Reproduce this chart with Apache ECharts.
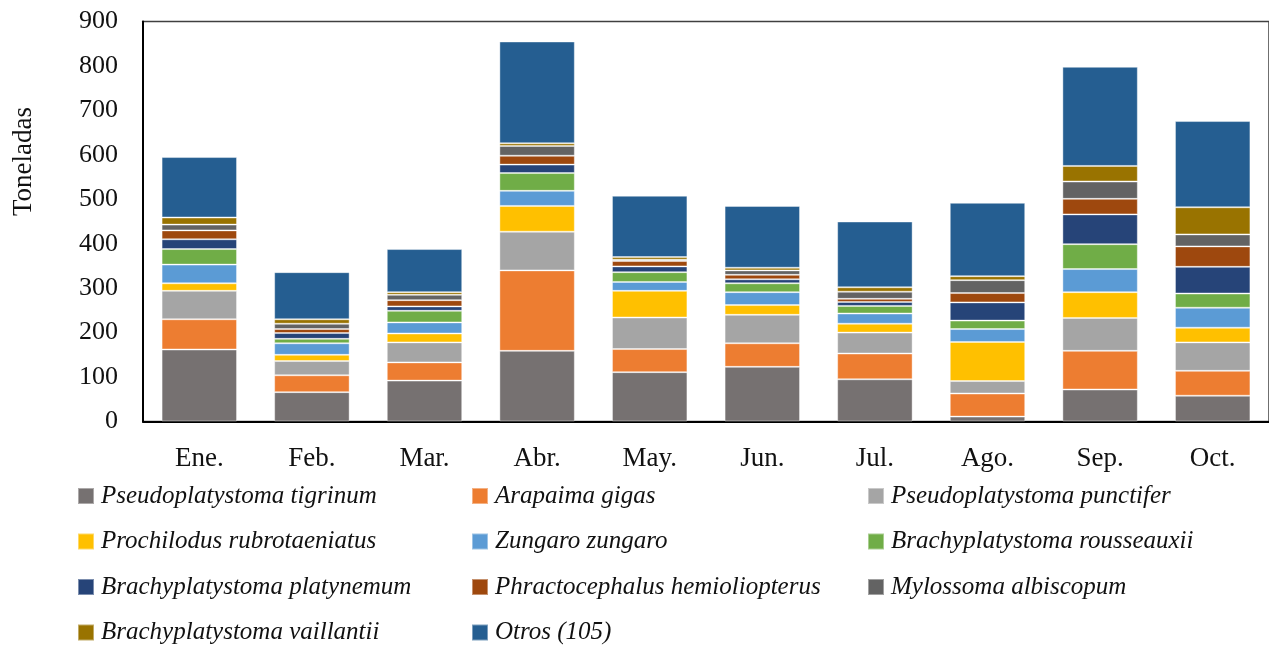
<!DOCTYPE html>
<html>
<head>
<meta charset="utf-8">
<script src="https://cdn.jsdelivr.net/npm/echarts@6/dist/echarts.min.js"></script>
<style>
html,body{margin:0;padding:0;background:#fff;}
#chart{width:1269px;height:650px;}
</style>
</head>
<body>
<div id="chart"></div>
<script>
const categories = ['Ene.','Feb.','Mar.','Abr.','May.','Jun.','Jul.','Ago.','Sep.','Oct.'];
const yTicks = [0,100,200,300,400,500,600,700,800,900];

const tigrinum     = [162, 66, 92, 159, 111, 123, 95, 11, 72, 58];
const arapaima     = [68, 38, 41, 181, 52, 53, 58, 52, 87, 56];
const punctifer    = [64, 32, 45, 87, 71, 64, 47, 28, 74, 64];
const prochilodus  = [17, 14, 20, 58, 60, 22, 20, 88, 58, 33];
const zungaro      = [42, 26, 25, 34, 20, 29, 23, 29, 52, 45];
const rousseauxii  = [35, 10, 26, 40, 22, 20, 17, 19, 56, 32];
const platynemum   = [22, 13, 10, 19, 13, 9, 9, 41, 67, 60];
const phractoceph  = [20, 9, 14, 20, 12, 10, 7, 21, 35, 46];
const mylossoma    = [13, 12, 12, 22, 3, 10, 16, 29, 39, 27];
const vaillantii   = [16, 10, 6, 6, 6, 6, 10, 9, 35, 61];
const otros        = [136, 106, 97, 229, 138, 139, 148, 165, 223, 194];

const seriesNames = ['Pseudoplatystoma tigrinum','Arapaima gigas','Pseudoplatystoma punctifer',
  'Prochilodus rubrotaeniatus','Zungaro zungaro','Brachyplatystoma rousseauxii',
  'Brachyplatystoma platynemum','Phractocephalus hemioliopterus','Mylossoma albiscopum',
  'Brachyplatystoma vaillantii','Otros (105)'];
const seriesData = [tigrinum, arapaima, punctifer, prochilodus, zungaro, rousseauxii,
  platynemum, phractoceph, mylossoma, vaillantii, otros];
const colors = ['#767171','#ED7D31','#A5A5A5','#FFC000','#5B9BD5','#70AD47',
  '#264478','#9E480E','#636363','#997300','#255E91'];

const chart = echarts.init(document.getElementById('chart'), null, {renderer:'canvas'});
const FONT = '"Liberation Serif", "Times New Roman", serif';

const legendCommon = {
  orient: 'vertical', icon: 'rect', itemWidth: 16, itemHeight: 16, itemGap: 15.5,
  padding: 0, top: 481, selectedMode: false,
  textStyle: {fontFamily: FONT, fontStyle: 'italic', fontSize: 25, color: '#111', lineHeight: 30, padding:[0,0,0,2]}
};

const option = {
  animation: false,
  color: colors,
  textStyle: {fontFamily: FONT},
  grid: {left: 143, top: 21.5, width: 1127, height: 400, show: true, borderColor: '#404040', borderWidth: 1.5, containLabel: false},
  legend: [
    Object.assign({left: 77, data: [seriesNames[0], seriesNames[3], seriesNames[6], seriesNames[9]]}, legendCommon),
    Object.assign({left: 471, data: [seriesNames[1], seriesNames[4], seriesNames[7], seriesNames[10]]}, legendCommon),
    Object.assign({left: 867, data: [seriesNames[2], seriesNames[5], seriesNames[8]]}, legendCommon)
  ],
  graphic: [{
    type: 'text', left: 10, top: 107, rotation: Math.PI/2,
    style: {text: 'Toneladas', font: '27px ' + FONT, fill: '#111'}
  }],
  xAxis: {
    type: 'category', data: categories,
    axisLine: {lineStyle: {color: '#000', width: 2}},
    axisTick: {show: false},
    axisLabel: {fontFamily: FONT, fontSize: 27, color: '#111', margin: 24}
  },
  yAxis: {
    type: 'value', min: yTicks[0], max: yTicks[yTicks.length-1], interval: 100,
    axisLine: {show: true, lineStyle: {color: '#000', width: 2}},
    axisTick: {show: false},
    splitLine: {show: false},
    axisLabel: {fontFamily: FONT, fontSize: 26, color: '#111', margin: 25}
  },
  series: seriesNames.map((n, i) => ({
    name: n, type: 'bar', stack: 'total', data: seriesData[i],
    barCategoryGap: '33%',
    itemStyle: {color: colors[i], borderColor: 'rgba(255,255,255,0.4)', borderWidth: 1}
  }))
};
chart.setOption(option);
</script>
</body>
</html>
